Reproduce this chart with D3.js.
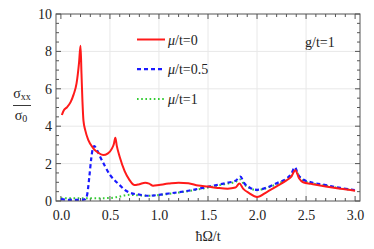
<!DOCTYPE html>
<html>
<head>
<meta charset="utf-8">
<script src="https://cdn.jsdelivr.net/npm/d3@7"></script>
<style>
  body { margin: 0; background: #fff; }
  svg, svg text { font-family: 'Liberation Serif', 'Times New Roman', Tinos, 'DejaVu Serif', serif !important; }
</style>
</head>
<body>
<div id="chart"></div>
<script>
// chart size
var svgWidth = 374;
var svgHeight = 249;

var margin = { top: 14, right: 14, bottom: 48, left: 56 };

var chartWidth = svgWidth - margin.left - margin.right;
var chartHeight = svgHeight - margin.top - margin.bottom;

var serif = "'Liberation Serif', 'Times New Roman', Tinos, 'DejaVu Serif', serif";

// mu/t = 0
var redX = [0.01, 0.03, 0.06, 0.1, 0.13, 0.16, 0.185, 0.2, 0.21, 0.22, 0.23, 0.25, 0.28, 0.33, 0.38, 0.43, 0.48, 0.52, 0.54, 0.555,
            0.57, 0.6, 0.65, 0.7, 0.75, 0.8, 0.86, 0.9, 0.94, 1.0, 1.1, 1.2, 1.3, 1.4, 1.5, 1.6, 1.7, 1.78, 1.82, 1.86,
            1.92, 2.0, 2.1, 2.2, 2.3, 2.35, 2.39, 2.43, 2.47, 2.55, 2.7, 2.85, 3.0];
var redY = [4.6, 4.85, 5.0, 5.3, 5.7, 6.3, 7.4, 8.3, 6.8, 5.3, 4.3, 3.75, 3.25, 2.82, 2.58, 2.46, 2.55, 2.8, 3.05, 3.38,
            2.95, 2.35, 1.6, 1.12, 0.85, 0.9, 0.98, 0.93, 0.82, 0.86, 0.93, 0.98, 0.95, 0.83, 0.77, 0.7, 0.66, 0.72, 0.93, 0.65,
            0.42, 0.22, 0.48, 0.78, 1.1, 1.3, 1.65, 1.2, 1.0, 0.92, 0.77, 0.65, 0.55];

// mu/t = 0.5
var blueX = [0.0, 0.1, 0.2, 0.25, 0.27, 0.29, 0.31, 0.325, 0.34, 0.37, 0.4, 0.45, 0.5, 0.55, 0.6, 0.65, 0.7, 0.8, 0.9, 1.0,
             1.1, 1.2, 1.3, 1.4, 1.5, 1.6, 1.7, 1.78, 1.83, 1.87, 1.93, 2.0, 2.1, 2.2, 2.3, 2.35, 2.385, 2.42, 2.47, 2.55,
             2.7, 2.85, 3.0];
var blueY = [0.1, 0.06, 0.06, 0.1, 0.4, 1.3, 2.3, 2.8, 2.94, 2.7, 2.37, 1.85, 1.4, 1.1, 0.85, 0.6, 0.45, 0.34, 0.28, 0.33,
             0.4, 0.47, 0.55, 0.65, 0.76, 0.87, 0.98, 1.08, 1.3, 0.95, 0.7, 0.6, 0.72, 0.95, 1.2, 1.45, 1.8, 1.4, 1.15, 1.0,
             0.85, 0.7, 0.58];

// mu/t = 1
var greenX = [0.0, 0.2, 0.4, 0.5, 0.55, 0.6, 0.65, 0.7, 0.8, 0.9, 1.0, 1.2, 1.4, 1.5, 1.6, 1.7, 1.78, 1.83, 1.87, 1.93,
              2.0, 2.1, 2.2, 2.3, 2.35, 2.39, 2.43, 2.47, 2.55, 2.7, 2.85, 3.0];
var greenY = [0.15, 0.15, 0.15, 0.16, 0.19, 0.24, 0.3, 0.33, 0.3, 0.28, 0.32, 0.45, 0.62, 0.72, 0.83, 0.93, 1.02, 1.15, 0.88, 0.68,
              0.58, 0.7, 0.9, 1.15, 1.35, 1.7, 1.3, 1.1, 0.97, 0.82, 0.68, 0.57];

var xTicks = [0, 0.5, 1, 1.5, 2, 2.5, 3];
var yTicks = [0, 2, 4, 6, 8, 10];
var legendLabels = ["=0", "=0.5", "=1"];

var svg = d3.select("#chart")
    .append("svg")
    .attr("width", svgWidth)
    .attr("height", svgHeight)
    .style("font-family", serif);

var chartGroup = svg.append("g")
    .attr("transform", `translate(${margin.left}, ${margin.top})`);

var x = d3.scaleLinear().domain([-0.05, 3.05]).range([0, chartWidth]);
var y = d3.scaleLinear().domain([0, 10]).range([chartHeight, 0]);

// grid
chartGroup.append("g").selectAll("line")
    .data(xTicks.slice(1, -1))
    .join("line")
    .attr("x1", d => x(d)).attr("x2", d => x(d))
    .attr("y1", 0).attr("y2", chartHeight)
    .attr("stroke", "#e8e8e8");
chartGroup.append("g").selectAll("line")
    .data(yTicks.slice(1, -1))
    .join("line")
    .attr("y1", d => y(d)).attr("y2", d => y(d))
    .attr("x1", 0).attr("x2", chartWidth)
    .attr("stroke", "#e8e8e8");

// frame ticks, pointing inward
var xMinor = d3.range(0, 3.001, 0.1);
var yMinor = d3.range(0, 10.001, 0.5);
function isMajor(v, step) { return Math.abs(v / step - Math.round(v / step)) < 1e-6; }

var tickColor = "#555";
var ticks = chartGroup.append("g");
xMinor.forEach(v => {
    var len = isMajor(v, 0.5) ? 5 : 3;
    ticks.append("line").attr("x1", x(v)).attr("x2", x(v)).attr("y1", chartHeight).attr("y2", chartHeight - len).attr("stroke", tickColor);
    ticks.append("line").attr("x1", x(v)).attr("x2", x(v)).attr("y1", 0).attr("y2", len).attr("stroke", tickColor);
});
yMinor.forEach(v => {
    var len = isMajor(v, 2) ? 5 : 3;
    ticks.append("line").attr("y1", y(v)).attr("y2", y(v)).attr("x1", 0).attr("x2", len).attr("stroke", tickColor);
    ticks.append("line").attr("y1", y(v)).attr("y2", y(v)).attr("x1", chartWidth).attr("x2", chartWidth - len).attr("stroke", tickColor);
});

// tick labels
var xAxis = chartGroup.append("g")
    .attr("transform", `translate(0, ${chartHeight})`)
    .call(d3.axisBottom(x).tickValues(xTicks).tickSize(0).tickPadding(9).tickFormat(d3.format(".1f")));
var yAxis = chartGroup.append("g")
    .call(d3.axisLeft(y).tickValues(yTicks).tickSize(0).tickPadding(4).tickFormat(d3.format("d")));
[xAxis, yAxis].forEach(a => {
    a.attr("font-family", null).attr("font-size", null);
    a.select(".domain").remove();
    a.selectAll("text").style("font-family", serif).attr("font-size", 14).attr("fill", "#222");
});

// curves
var line = d3.line()
    .x(d => x(d[0]))
    .y(d => y(d[1]))
    .curve(d3.curveMonotoneX);

var series = [
    { xs: redX, ys: redY, color: "#ff1a1a", width: 2, dash: null },
    { xs: blueX, ys: blueY, color: "#1a1aff", width: 2.2, dash: "4,3" },
    { xs: greenX, ys: greenY, color: "#33cc33", width: 2, dash: "1.6,2.6" }
];

svg.append("clipPath").attr("id", "clip")
    .append("rect").attr("width", chartWidth).attr("height", chartHeight);

series.slice().reverse().forEach(s => {
    chartGroup.append("path")
        .datum(d3.zip(s.xs, s.ys))
        .attr("clip-path", "url(#clip)")
        .attr("fill", "none")
        .attr("stroke", s.color)
        .attr("stroke-width", s.width)
        .attr("stroke-dasharray", s.dash)
        .attr("d", line);
});

// frame
chartGroup.append("rect")
    .attr("width", chartWidth).attr("height", chartHeight)
    .attr("fill", "none").attr("stroke", "#555").attr("stroke-width", 1);

// legend
var legend = svg.append("g");
series.forEach((s, i) => {
    var ly = 39.5 + i * 29.7;
    legend.append("line")
        .attr("x1", 137).attr("x2", 165).attr("y1", ly).attr("y2", ly)
        .attr("stroke", s.color).attr("stroke-width", s.width)
        .attr("stroke-dasharray", s.dash);
    var t = legend.append("text").attr("x", 168).attr("y", ly + 5).attr("font-size", 14).attr("fill", "#222");
    t.append("tspan").attr("font-style", "italic").text("μ");
    t.append("tspan").text("/t" + legendLabels[i]);
});

svg.append("text").attr("x", 305).attr("y", 47).attr("font-size", 14).attr("fill", "#222").text("g/t=1");

// axis labels
svg.append("text").attr("x", 208).attr("y", 241).attr("text-anchor", "middle")
    .attr("font-size", 14).attr("fill", "#222").text("ħΩ/t");

var yl = svg.append("g");
var num = yl.append("text").attr("x", 22).attr("y", 98).attr("text-anchor", "middle").attr("font-size", 14).attr("fill", "#222");
num.append("tspan").text("σ");
num.append("tspan").attr("font-size", 10).attr("dy", 2).text("xx");
yl.append("line").attr("x1", 13).attr("x2", 31).attr("y1", 105.5).attr("y2", 105.5).attr("stroke", "#222").attr("stroke-width", 0.9);
var den = yl.append("text").attr("x", 21).attr("y", 120).attr("text-anchor", "middle").attr("font-size", 14).attr("fill", "#222");
den.append("tspan").text("σ");
den.append("tspan").attr("font-size", 10).attr("dy", 2).text("0");
</script>
</body>
</html>
